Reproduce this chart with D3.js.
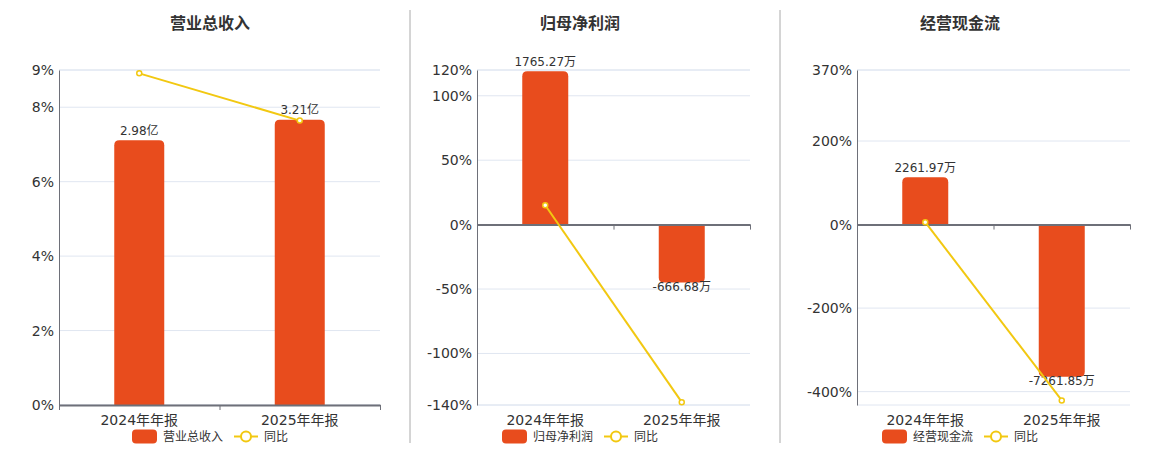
<!DOCTYPE html>
<html>
<head>
<meta charset="utf-8">
<script src="https://cdn.jsdelivr.net/npm/d3@7"></script>
<style>
    body { margin: 0; background: #fff; }
    text { font-family: "DejaVu Sans", "Noto Sans CJK SC", sans-serif; }
</style>
</head>
<body>
<div id="chart"></div>
<script>
// data
const categories = ["2024年年报", "2025年年报"];

const revenueValues = [2.98, 3.21];
const revenueLabels = ["2.98亿", "3.21亿"];
const revenueYoy = [8.91, 7.64];
const revenueTicks = [0, 2, 4, 6, 8, 9];

const profitValues = [1765.27, -666.68];
const profitLabels = ["1765.27万", "-666.68万"];
const profitYoy = [15.0, -137.77];
const profitTicks = [-140, -100, -50, 0, 50, 100, 120];

const cashValues = [2261.97, -7261.85];
const cashLabels = ["2261.97万", "-7261.85万"];
const cashYoy = [5.7, -421.04];
const cashTicks = [-400, -200, 0, 200, 370];

const barColor = "#E84C1D";
const lineColor = "#F2C811";
const axisColor = "#6E7079";
const gridColor = "#E0E6F1";
const textColor = "#333";

var svg = d3.select("#chart")
    .append("svg")
    .attr("width", 1160)
    .attr("height", 450);

var panels = [
    { title: "营业总收入", name: "营业总收入", values: revenueValues, labels: revenueLabels, yoy: revenueYoy,
      ticks: revenueTicks, yoyDomain: [0, 9], barDomain: [0, 3.77], x0: 59, x1: 380, cx: 210, barWidth: 50 },
    { title: "归母净利润", name: "归母净利润", values: profitValues, labels: profitLabels, yoy: profitYoy,
      ticks: profitTicks, yoyDomain: [-140, 120], barDomain: [-2075, 1780], x0: 477, x1: 750, cx: 580, barWidth: 46 },
    { title: "经营现金流", name: "经营现金流", values: cashValues, labels: cashLabels, yoy: cashYoy,
      ticks: cashTicks, yoyDomain: [-432, 370], barDomain: [-8614, 7391], x0: 857, x1: 1130, cx: 960, barWidth: 46 }
];

var plotTop = 70, plotBottom = 405;

// rounded only on the outer end of the bar
function barPath(x, w, yBase, yEnd, r) {
    var h = Math.abs(yEnd - yBase);
    r = Math.min(r, h, w / 2);
    if (yEnd < yBase) {
        return "M" + x + "," + yBase +
            "V" + (yEnd + r) +
            "Q" + x + "," + yEnd + " " + (x + r) + "," + yEnd +
            "H" + (x + w - r) +
            "Q" + (x + w) + "," + yEnd + " " + (x + w) + "," + (yEnd + r) +
            "V" + yBase + "Z";
    }
    return "M" + x + "," + yBase +
        "V" + (yEnd - r) +
        "Q" + x + "," + yEnd + " " + (x + r) + "," + yEnd +
        "H" + (x + w - r) +
        "Q" + (x + w) + "," + yEnd + " " + (x + w) + "," + (yEnd - r) +
        "V" + yBase + "Z";
}

function drawPanel(p) {
    var g = svg.append("g");

    var x = d3.scaleBand().domain(categories).range([p.x0, p.x1]);
    var y = d3.scaleLinear().domain(p.yoyDomain).range([plotBottom, plotTop]);
    var yBar = d3.scaleLinear().domain(p.barDomain).range([plotBottom, plotTop]);
    var cxOf = d => x(d) + x.bandwidth() / 2;

    // title
    g.append("text")
        .attr("x", p.cx)
        .attr("y", 29)
        .attr("text-anchor", "middle")
        .style("font-size", "16px")
        .style("font-weight", "bold")
        .style("fill", textColor)
        .text(p.title);

    // gridlines
    var gridVals = p.ticks.concat(p.yoyDomain);
    g.append("g")
        .selectAll("line")
        .data(gridVals)
        .enter().append("line")
        .attr("x1", p.x0)
        .attr("x2", p.x1)
        .attr("y1", d => y(d))
        .attr("y2", d => y(d))
        .style("stroke", gridColor)
        .style("stroke-width", 1);

    // y axis
    var yAxis = g.append("g")
        .attr("transform", "translate(" + p.x0 + ",0)")
        .call(d3.axisLeft(y).tickValues(p.ticks).tickSize(0).tickPadding(5)
            .tickFormat(d => d + "%"));
    yAxis.select(".domain").style("stroke", axisColor).style("stroke-width", 1);
    yAxis.selectAll("text")
        .style("font-size", "14px")
        .style("fill", textColor)
        .style("font-family", "DejaVu Sans, Noto Sans CJK SC, sans-serif");

    // bars
    g.selectAll(".bar")
        .data(p.values)
        .enter().append("path")
        .attr("d", (d, i) => barPath(cxOf(categories[i]) - p.barWidth / 2, p.barWidth, yBar(0), yBar(d), 5))
        .style("fill", barColor);

    // bar labels
    g.selectAll(".barlabel")
        .data(p.values)
        .enter().append("text")
        .attr("x", (d, i) => cxOf(categories[i]))
        .attr("y", d => d >= 0 ? yBar(d) - 5.5 : yBar(d) + 8.5)
        .attr("text-anchor", "middle")
        .style("font-size", "12px")
        .style("fill", textColor)
        .text((d, i) => p.labels[i]);

    // x axis line at zero with boundary ticks
    var bounds = d3.scaleLinear().domain([0, 2]).range([p.x0, p.x1]);
    var xAxis = g.append("g")
        .attr("transform", "translate(0," + y(0) + ")")
        .call(d3.axisBottom(bounds).tickValues([0, 1, 2]).tickSize(5).tickSizeOuter(0).tickFormat(""));
    xAxis.select(".domain").style("stroke", axisColor).style("stroke-width", 2);
    xAxis.selectAll(".tick line").style("stroke", axisColor).style("stroke-width", 1);

    // category labels along the bottom
    var catAxis = g.append("g")
        .attr("transform", "translate(0," + plotBottom + ")")
        .call(d3.axisBottom(x).tickSize(0).tickPadding(10));
    catAxis.select(".domain").remove();
    catAxis.selectAll("text")
        .style("font-size", "14px")
        .style("fill", textColor)
        .style("font-family", "DejaVu Sans, Noto Sans CJK SC, sans-serif");

    // yoy line
    var line = d3.line()
        .x((d, i) => cxOf(categories[i]))
        .y(d => y(d));
    g.append("path")
        .datum(p.yoy)
        .attr("d", line)
        .style("fill", "none")
        .style("stroke", lineColor)
        .style("stroke-width", 2);

    g.selectAll(".dot")
        .data(p.yoy)
        .enter().append("circle")
        .attr("cx", (d, i) => cxOf(categories[i]))
        .attr("cy", d => y(d))
        .attr("r", 2.5)
        .style("fill", "#fff")
        .style("stroke", lineColor)
        .style("stroke-width", 1.5);

    // legend
    var ly = 436.5;
    var legend = g.append("g");
    legend.append("rect")
        .attr("x", p.cx - 78)
        .attr("y", ly - 7)
        .attr("width", 25)
        .attr("height", 14)
        .attr("rx", 4)
        .style("fill", barColor);
    legend.append("text")
        .attr("x", p.cx - 47)
        .attr("y", ly)
        .attr("dy", "0.35em")
        .style("font-size", "12px")
        .style("fill", textColor)
        .text(p.name);
    legend.append("line")
        .attr("x1", p.cx + 24)
        .attr("x2", p.cx + 48)
        .attr("y1", ly)
        .attr("y2", ly)
        .style("stroke", lineColor)
        .style("stroke-width", 2);
    legend.append("circle")
        .attr("cx", p.cx + 36)
        .attr("cy", ly)
        .attr("r", 5)
        .style("fill", "#fff")
        .style("stroke", lineColor)
        .style("stroke-width", 2);
    legend.append("text")
        .attr("x", p.cx + 54)
        .attr("y", ly)
        .attr("dy", "0.35em")
        .style("font-size", "12px")
        .style("fill", textColor)
        .text("同比");
}

panels.forEach(drawPanel);

// dividers between panels
svg.selectAll(".divider")
    .data([410, 780])
    .enter().append("line")
    .attr("x1", d => d)
    .attr("x2", d => d)
    .attr("y1", 10)
    .attr("y2", 443)
    .style("stroke", "#aaa")
    .style("stroke-width", 1);
</script>
</body>
</html>
